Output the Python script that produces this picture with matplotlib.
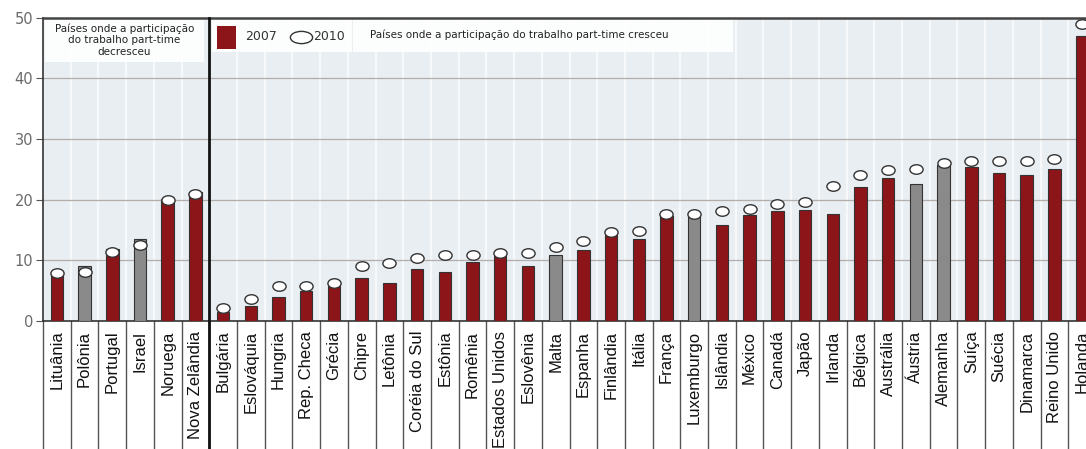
import numpy as np
import matplotlib
matplotlib.use("Agg")
import matplotlib.pyplot as plt
from matplotlib.path import Path
from matplotlib.transforms import Affine2D
from matplotlib.patches import Rectangle

# data (% part-time share)
countries = ["Lituânia", "Polônia", "Portugal", "Israel", "Noruega", "Nova Zelândia",
             "Bulgária", "Eslováquia", "Hungria", "Rep. Checa", "Grécia", "Chipre",
             "Letônia", "Coréia do Sul", "Estônia", "Romênia", "Estados Unidos",
             "Eslovênia", "Malta", "Espanha", "Finlândia", "Itália", "França",
             "Luxemburgo", "Islândia", "México", "Canadá", "Japão", "Irlanda",
             "Bélgica", "Austrália", "Áustria", "Alemanha", "Suíça", "Suécia",
             "Dinamarca", "Reino Unido", "Holanda"]
v2007 = [8.2, 9.1, 11.8, 13.5, 20.1, 21.2,
         1.5, 2.5, 4.0, 4.9, 5.7, 7.1, 6.3, 8.6, 8.0, 9.7, 10.7, 9.1, 10.8, 11.7,
         14.1, 13.5, 17.3, 17.3, 15.8, 17.4, 18.2, 18.3, 17.6, 22.0, 23.6, 22.5,
         25.7, 25.4, 24.3, 24.1, 25.0, 47.0]
v2010 = [7.9, 8.0, 11.4, 12.6, 19.9, 21.0,
         2.2, 3.7, 5.7, 5.8, 6.2, 9.1, 9.5, 10.3, 10.8, 10.8, 11.2, 11.2, 12.2, 13.1,
         14.6, 14.9, 17.7, 17.7, 18.2, 18.4, 19.3, 19.6, 22.3, 24.0, 24.8, 25.0,
         26.1, 26.3, 26.3, 26.4, 26.7, 48.9]
gray_countries = ["Polônia", "Israel", "Malta", "Luxemburgo", "Áustria", "Alemanha"]
n_decreased = 6

red = "#8b1518"
grey = "#8a8a8a"
bg = "#e8eef2"

x = np.arange(len(countries))
colors = [grey if c in gray_countries else red for c in countries]

fig = plt.figure(figsize=(10.86, 4.49), dpi=100)
ax = fig.add_axes([43/1086, 128/449, 1053/1086, 303.5/449])
ax.set_facecolor(bg)
ax.set_xlim(-0.5, len(countries) - 0.5)
ax.set_ylim(0, 50)

# grid
for yv in [10, 20, 30, 40]:
    ax.axhline(yv, color="#b2aeac", lw=0.9, zorder=1)
for b in np.arange(-0.5, len(countries) + 0.5):
    ax.axvline(b, color="#f6f8fa", lw=1.6, zorder=0.5)

ax.bar(x, v2007, width=0.45, color=colors, edgecolor="#333333", lw=0.8, zorder=3)

ell = Path.unit_circle().transformed(Affine2D().scale(1, 0.72))
ax.plot(x, v2010, ls="none", marker=ell, ms=9.5, mfc="white", mec="#333333",
        mew=1.0, zorder=4, clip_on=False)

# spines / ticks
for s in ["left", "bottom"]:
    ax.spines[s].set_color("#333333")
    ax.spines[s].set_linewidth(1.2)
ax.spines["top"].set_color("#444444")
ax.spines["top"].set_linewidth(1.8)
ax.spines["right"].set_visible(False)
ax.set_yticks([0, 10, 20, 30, 40, 50])
ax.tick_params(axis="y", length=5, color="#555555", labelcolor="#6a6a6a",
               labelsize=10.5, pad=2)
ax.set_xticks(x)
ax.set_xticklabels(countries, rotation=90, fontsize=12, family="Liberation Sans",
                   color="#111111")
ax.tick_params(axis="x", length=0, pad=7)

# separators in label area
tr = ax.get_xaxis_transform()
for b in np.arange(-0.5, len(countries) + 0.5):
    ax.plot([b, b], [0, -0.43], transform=tr, color="#555555", lw=1.0, clip_on=False)
ax.plot([n_decreased - 0.5] * 2, [1, -0.43], transform=tr, color="#111111",
        lw=2.0, clip_on=False, zorder=5)

# legend / annotation boxes
ax.add_patch(Rectangle((-0.43, 42.6), 5.74, 7.2, facecolor="white", edgecolor="none",
                       alpha=0.9, zorder=2))
ax.text(2.44, 46.3, "Países onde a participação\ndo trabalho part-time\ndecresceu",
        ha="center", va="center", fontsize=7.5, color="#222222", linespacing=1.2,
        zorder=6)
ax.add_patch(Rectangle((5.6, 44.3), 5.05, 5.5, facecolor="white", edgecolor="none",
                       alpha=0.9, zorder=2))
ax.add_patch(Rectangle((10.69, 44.3), 13.7, 5.5, facecolor="white", edgecolor="none",
                       alpha=0.9, zorder=2))
ax.add_patch(Rectangle((5.78, 44.8), 0.69, 3.8, facecolor=red, edgecolor="none",
                       zorder=6))
ax.text(6.79, 46.8, "2007", ha="left", va="center", fontsize=9, color="#333333",
        zorder=6)
leg_ell = Path.unit_circle().transformed(Affine2D().scale(1, 0.55))
ax.plot([8.81], [46.8], marker=leg_ell, ms=16, mfc="white", mec="#333333", mew=1.0,
        zorder=6)
ax.text(9.24, 46.8, "2010", ha="left", va="center", fontsize=9, color="#333333",
        zorder=6)
ax.text(11.3, 47.1, "Países onde a participação do trabalho part-time cresceu",
        ha="left", va="center", fontsize=7.5, color="#222222", zorder=6)

fig.savefig("out.png", dpi=100)
